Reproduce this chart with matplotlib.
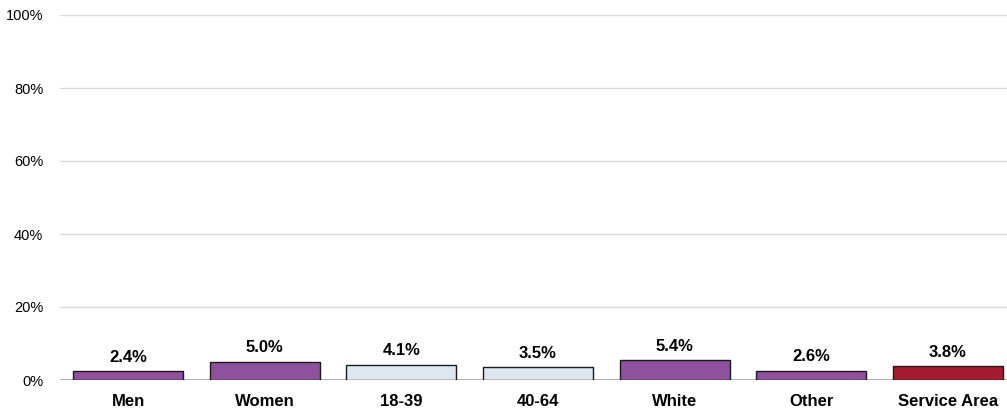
import matplotlib.pyplot as plt
from matplotlib.ticker import PercentFormatter

plt.rcParams['font.family'] = ['Liberation Sans', 'DejaVu Sans']

categories = ['Men', 'Women', '18-39', '40-64', 'White', 'Other', 'Service Area']
values = [2.4, 5.0, 4.1, 3.5, 5.4, 2.6, 3.8]
colors = ['#8f509d', '#8f509d', '#dce8ee', '#dce8ee', '#8f509d', '#8f509d', '#a51c30']

fig = plt.figure(figsize=(10.07, 4.17), dpi=100)
ax = fig.add_axes([60 / 1007, 37 / 417, 947 / 1007, 365 / 417])

x = range(len(categories))
bars = ax.bar(x, values, width=0.805, color=colors, edgecolor='#1a1a1a', linewidth=1, zorder=3)

for i, v in enumerate(values):
    ax.text(i, v + 1.8, f"{v:.1f}%", ha='center', va='bottom', fontsize=12, fontweight='bold')

ax.set_ylim(0, 100)
ax.set_xlim(-0.5, 6.434)
ax.set_yticks([0, 20, 40, 60, 80, 100])
ax.yaxis.set_major_formatter(PercentFormatter(decimals=0))
ax.set_xticks(list(x))
ax.set_xticklabels(categories, fontsize=12, fontweight='bold')
ax.tick_params(axis='y', length=0, labelsize=10.5, pad=12)
ax.tick_params(axis='x', length=0, pad=10)
ax.grid(axis='y', color='#d9d9d9', linewidth=1, zorder=0)
for s in ax.spines.values():
    s.set_visible(False)
ax.axhline(0, color='#a6a6a6', linewidth=1.2, zorder=2)

plt.savefig('out.png', dpi=100)
